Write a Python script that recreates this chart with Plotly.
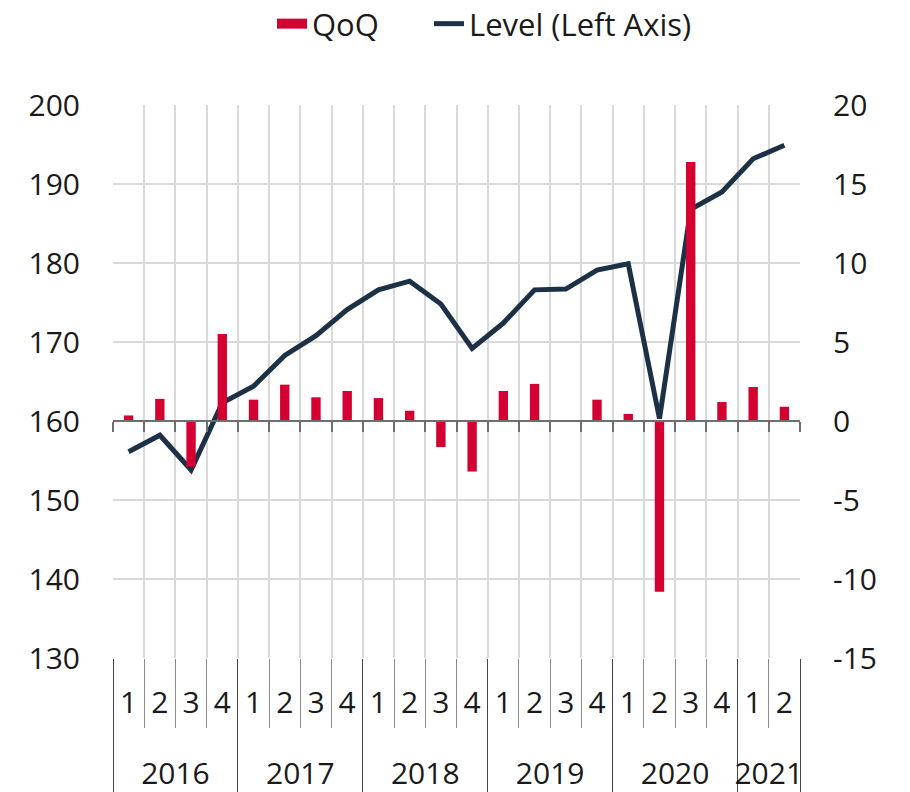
import plotly.graph_objects as go

years = ["2016"]*4 + ["2017"]*4 + ["2018"]*4 + ["2019"]*4 + ["2020"]*4 + ["2021"]*2
quarters = ["1","2","3","4"]*5 + ["1","2"]
qoq = [0.35, 1.4, -2.9, 5.5, 1.35, 2.3, 1.5, 1.9, 1.45, 0.65, -1.65, -3.2,
       1.9, 2.35, 0.05, 1.35, 0.45, -10.8, 16.4, 1.2, 2.15, 0.9]
level = [156.1, 158.2, 153.8, 162.3, 164.4, 168.3, 170.8, 174.1, 176.6, 177.7, 174.8, 169.2,
         172.4, 176.6, 176.7, 179.1, 179.9, 160.3, 186.8, 189.0, 193.2, 194.9]
left_ticks = [130, 140, 150, 160, 170, 180, 190, 200]
right_ticks = [-15, -10, -5, 0, 5, 10, 15, 20]
right_labels = ["-15", "-10", "-5", "0", "5", "10", "15", "20"]

RED = "#D50032"
NAVY = "#1D3146"
FONT = "Open Sans, Noto Sans, sans-serif"
GRID = "#D9D9D9"
x = [years, quarters]
n = len(quarters)
idx = list(range(n))
xr = [-0.5, n - 0.5]

# year groups derived from the data
uniq_years = []
for y in years:
    if y not in uniq_years:
        uniq_years.append(y)
year_centers = [sum(i for i in idx if years[i] == y) / years.count(y) for y in uniq_years]
year_bounds = [-0.5] + [i - 0.5 for i in range(1, n) if years[i] != years[i-1]] + [n - 0.5]

# the page body adds an 8px offset; the figure is sized to fill the window
OFF = 8
W, H = 910 - OFF, 792 - OFF
mt, mb, ml, mr = 105 - OFF, 0, 113 - OFF, 110
pw = W - ml - mr
ph = H - mt - mb
plot_bottom = 658 - OFF
dom0 = (H - mb - plot_bottom) / ph
def pos(ypix_screen):
    return (H - mb - (ypix_screen - OFF)) / ph
def xpos(xpix_screen):
    return (xpix_screen - OFF - ml) / pw
zero_pos = dom0 + (1 - dom0) * 3 / 7
leg_y = 1 + (mt - (24 - OFF)) / ph

fig = go.Figure()
fig.add_trace(go.Bar(x=x, y=qoq, name="QoQ", marker=dict(color=RED, line=dict(width=0)),
                     width=0.3, xaxis="x2", yaxis="y2", showlegend=False))
fig.add_trace(go.Scatter(x=x, y=[None]*n, name="QoQ", mode="lines", legend="legend",
                         line=dict(color=RED, width=20), xaxis="x", yaxis="y", hoverinfo="skip"))
fig.add_trace(go.Scatter(x=x, y=level, name="Level (Left Axis)", mode="lines", legend="legend2",
                         line=dict(color=NAVY, width=5), xaxis="x", yaxis="y"))
for ax in ["x3", "x4", "x5"]:
    fig.add_trace(go.Scatter(x=idx, y=level, mode="lines", line=dict(width=0), showlegend=False,
                             hoverinfo="skip", xaxis=ax, yaxis="y"))

fig.update_layout(
    width=W, height=H,
    margin=dict(l=ml, r=mr, t=mt, b=mb, autoexpand=False),
    paper_bgcolor="white", plot_bgcolor="white",
    font=dict(family=FONT, size=30, color="#1a1a1a"),
    showlegend=True,
    legend=dict(orientation="h", x=xpos(272), xanchor="left", y=leg_y, yanchor="middle",
                font=dict(size=31)),
    legend2=dict(orientation="h", x=xpos(429), xanchor="left", y=leg_y, yanchor="middle",
                 font=dict(size=31)),
    barmode="overlay",
    # main data axis: vertical gridlines + quarter separators below the plot
    xaxis=dict(type="multicategory", range=xr, domain=[0, 1], anchor="y",
               tickson="boundaries", showgrid=True, gridcolor=GRID, gridwidth=1.5,
               ticks="outside", ticklen=69, tickcolor="#8c8c8c", tickwidth=1,
               showticklabels=False, showdividers=False, showline=False, zeroline=False),
    # zero line with small ticks (bar axis)
    xaxis2=dict(type="multicategory", range=xr, overlaying="x", anchor="free", position=zero_pos,
                tickson="boundaries", showgrid=False, ticks="outside", ticklen=10,
                tickcolor="#6e6e6e", tickwidth=1.5, showticklabels=False, showdividers=False,
                showline=True, linecolor="#6e6e6e", linewidth=1.5, zeroline=False),
    # quarter labels
    xaxis3=dict(type="linear", range=xr, overlaying="x", anchor="free", position=pos(682),
                tickmode="array", tickvals=idx, ticktext=quarters, ticks="",
                showgrid=False, showline=False, zeroline=False, tickfont=dict(size=30)),
    # year dividers
    xaxis4=dict(type="linear", range=xr, overlaying="x", anchor="free", position=dom0,
                tickmode="array", tickvals=year_bounds, ticks="outside", ticklen=H - plot_bottom,
                tickcolor="#444444", tickwidth=1, showticklabels=False,
                showgrid=False, showline=False, zeroline=False),
    # year labels
    xaxis5=dict(type="linear", range=xr, overlaying="x", anchor="free", position=pos(753),
                tickmode="array", tickvals=year_centers, ticktext=uniq_years, ticks="",
                showgrid=False, showline=False, zeroline=False, tickfont=dict(size=30)),
    yaxis=dict(domain=[dom0, 1], range=[left_ticks[0], left_ticks[-1]], tickmode="array",
               tickvals=left_ticks, showgrid=True, gridcolor=GRID,
               gridwidth=1.5, zeroline=False, ticks="", ticklabelstandoff=32, anchor="x"),
    yaxis2=dict(overlaying="y", side="right", range=[right_ticks[0], right_ticks[-1]],
                tickmode="array", tickvals=right_ticks, ticktext=right_labels, showgrid=False,
                zeroline=False, ticks="", ticklabelstandoff=32, anchor="x"),
)
fig.write_html("out.html")
